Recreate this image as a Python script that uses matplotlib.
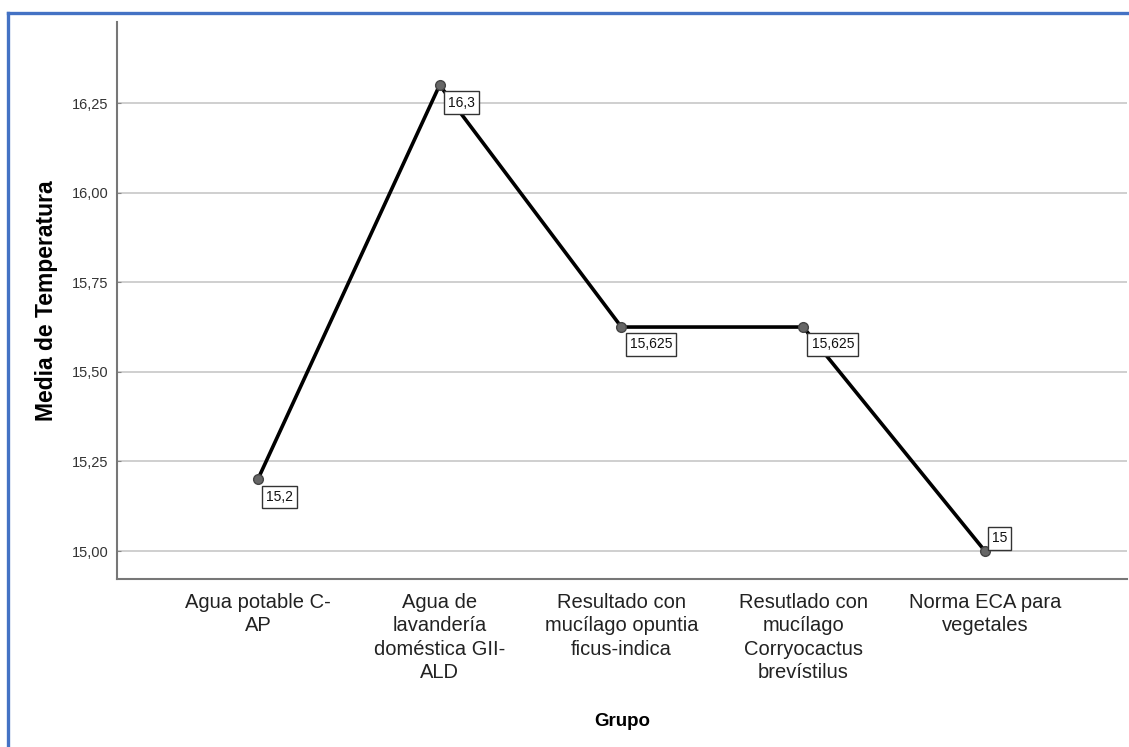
import matplotlib
matplotlib.use('Agg')
import matplotlib.pyplot as plt
from matplotlib.lines import Line2D
from matplotlib.ticker import FuncFormatter

plt.rcParams['font.family'] = ['Liberation Sans', 'DejaVu Sans']

grupos = ['Agua potable C-\nAP',
          'Agua de\nlavandería\ndoméstica GII-\nALD',
          'Resultado con\nmucílago opuntia\nficus-indica',
          'Resutlado con\nmucílago\nCorryocactus\nbrevístilus',
          'Norma ECA para\nvegetales']
medias = [15.2, 16.3, 15.625, 15.625, 15.0]
etiquetas = ['15,2', '16,3', '15,625', '15,625', '15']
lado = ['abajo', 'abajo', 'abajo', 'abajo', 'arriba']
yticks = [15.00, 15.25, 15.50, 15.75, 16.00, 16.25]

fig = plt.figure(figsize=(11.29, 7.47), dpi=100)
ax = fig.add_axes([0.1036, 0.2249, 0.8944, 0.7456])

x = list(range(len(grupos)))
ax.plot(x, medias, color='black', lw=2.6, zorder=3)
ax.plot(x, medias, 'o', ms=7, mfc='#666666', mec='#444444', mew=1, zorder=4)

# etiquetas de valor
caja = dict(boxstyle='square,pad=0.3', fc='white', ec='#333333', lw=1)
for xi, yi, t, l in zip(x, medias, etiquetas, lado):
    if l == 'abajo':
        ax.annotate(t, (xi, yi), xytext=(6, -7.5), textcoords='offset points',
                    ha='left', va='top', fontsize=10, color='#111111', zorder=5,
                    bbox=caja)
    else:
        ax.annotate(t, (xi, yi), xytext=(5, 4), textcoords='offset points',
                    ha='left', va='bottom', fontsize=10, color='#111111', zorder=5,
                    bbox=caja)

ax.set_xlim(-0.775, 4.78)
ax.set_ylim(14.922, 16.476)
ax.set_yticks(yticks)
ax.yaxis.set_major_formatter(FuncFormatter(lambda v, p: f'{v:.2f}'.replace('.', ',')))
ax.set_xticks(x)
ax.set_xticklabels(grupos, fontsize=14.5, color='#222222', linespacing=1.3)
ax.tick_params(axis='x', length=0, pad=10)
ax.tick_params(axis='y', direction='in', length=3, color='#888888', labelsize=10.5,
               labelcolor='#333333', pad=6)

ax.grid(axis='y', color='#cccccc', lw=1.3, zorder=0)
ax.set_axisbelow(True)
for s in ['top', 'right']:
    ax.spines[s].set_visible(False)
for s in ['left', 'bottom']:
    ax.spines[s].set_color('#777777')
    ax.spines[s].set_linewidth(1.5)

ax.set_ylabel('Media de Temperatura', fontsize=16.5, fontweight='bold')
ax.set_xlabel('Grupo', fontsize=13.5, fontweight='bold')
ax.yaxis.set_label_coords(-0.058, 0.5)
ax.xaxis.set_label_coords(0.5, -0.24)

# borde azul
fig.add_artist(Line2D([0.0071, 1.0], [0.9826, 0.9826], color='#4472C4', lw=2.4,
                      transform=fig.transFigure))
fig.add_artist(Line2D([0.0071, 0.0071], [0.0, 0.9826], color='#4472C4', lw=2.4,
                      transform=fig.transFigure))

fig.savefig('out.png', dpi=100)
